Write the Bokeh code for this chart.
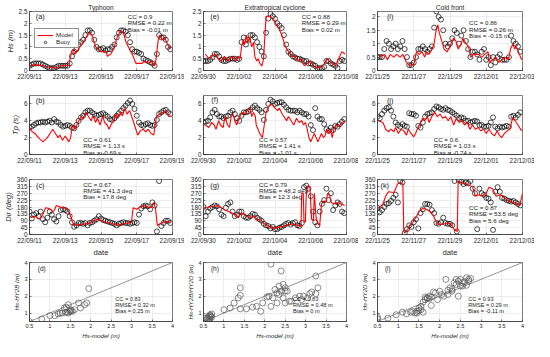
import numpy as np
from bokeh.plotting import figure
from bokeh.layouts import gridplot
from bokeh.models import (Range1d, FixedTicker, CustomJSTickFormatter, Label,
                          Legend, LegendItem)
from bokeh.embed import file_html
from bokeh.resources import INLINE

FONT = "Liberation Sans"
TXT = "#262626"
RED = "#ff0000"

titles = ["Typhoon", "Extratropical cyclone", "Cold front"]
date_labels = [
    ["22/09/11", "22/09/13", "22/09/15", "22/09/17", "22/09/19"],
    ["22/09/30", "22/10/02", "22/10/04", "22/10/06", "22/10/08"],
    ["22/11/25", "22/11/27", "22/11/29", "22/12/01", "22/12/03"],
]
date_ticks = [0, 2, 4, 6, 8]
STEP = 0.125  # buoy sampling, days (3 h)

# ---------------- Hs (m) ----------------
buoy_hs_typ = [0.2, 0.25, 0.3, 0.3, 0.3, 0.3, 0.25, 0.2,
               0.15, 0.1, 0.1, 0.1, 0.15, 0.2, 0.2, 0.2,
               0.2, 0.2, 0.3, 0.6, 0.8, 0.9, 1.1, 1.2,
               1.3, 1.5, 1.7, 1.7, 1.6, 1.3, 1.0, 0.9,
               0.9, 0.95, 0.85, 0.9, 0.9, 1.0, 1.1, 1.4,
               1.6, 1.7, 1.7, 1.65, 1.5, 1.2, 0.9, 0.8,
               0.8, 0.75, 0.7, 0.5, 0.45, 0.4, 0.35, 0.3,
               0.2, 0.7, 1.5, 1.4, 1.4, 1.3, 1.0, 0.9]
model_hs_typ = [(0, 0.2), (0.3, 0.25), (0.8, 0.2), (1.0, 0.15), (1.5, 0.1), (1.7, 0.2), (2.2, 0.2),
                (2.35, 0.8), (2.45, 0.9), (2.5, 0.7), (2.65, 0.8), (3.0, 1.2), (3.25, 1.5), (3.37, 1.6),
                (3.5, 1.5), (3.7, 1.0), (3.85, 0.9), (4.0, 0.8), (4.3, 0.8), (4.35, 0.6), (4.55, 0.7),
                (4.7, 0.9), (4.9, 1.4), (5.1, 1.7), (5.25, 1.6), (5.4, 1.2), (5.6, 0.9), (5.8, 0.6),
                (5.95, 0.3), (6.3, 0.3), (6.45, 0.4), (6.65, 0.3), (6.8, 0.4), (7.0, 0.2), (7.05, 0.3),
                (7.2, 1.3), (7.3, 1.5), (7.45, 1.3), (7.55, 1.4), (7.8, 1.0), (7.88, 0.9)]

buoy_hs_ext = [0.4, 0.4, 0.4, 0.45, 0.55, 0.7, 0.7, 0.6,
               0.45, 0.4, 0.4, 0.45, 0.5, 0.5, 0.5, 0.45,
               0.5, 1.2, 1.4, 1.1, 1.3, 1.5, 1.5, 1.4,
               1.2, 1.0, 0.8, 0.6, 1.6, 2.2, 2.4, 2.3,
               2.2, 2.0, 1.9, 1.8, 1.5, 1.1, 0.8, 0.7,
               0.6, 0.55, 0.5, 0.5, 0.45, 0.4, 0.4, 0.3,
               0.3, 0.25, 0.2, 0.1, 0.1, 0.1, 0.15, 0.4,
               0.4, 0.3, 0.25, 0.2, 0.1, 0.4, 0.45, 0.4]
model_hs_ext = [(0.1, 0.7), (0.3, 0.5), (0.47, 0.6), (0.65, 0.7), (0.82, 0.5), (1.0, 0.4), (1.17, 0.6),
                (1.35, 0.4), (1.6, 0.6), (1.78, 0.4), (1.92, 0.6), (2.05, 0.5), (2.13, 1.0), (2.22, 1.3),
                (2.3, 1.1), (2.4, 1.5), (2.48, 1.2), (2.57, 1.4), (2.7, 1.0), (2.8, 1.2), (2.87, 0.6),
                (2.98, 0.4), (3.06, 0.5), (3.15, 0.3), (3.27, 0.2), (3.36, 0.5), (3.5, 2.3), (3.68, 2.3),
                (3.85, 2.2), (4.03, 2.0), (4.2, 1.8), (4.38, 1.5), (4.59, 1.0), (4.76, 0.8), (4.94, 0.6),
                (5.11, 0.6), (5.29, 0.4), (5.46, 0.5), (5.64, 0.2), (5.81, 0.3), (5.99, 0.4), (6.16, 0.2),
                (6.34, 0.1), (6.6, 0.15), (6.78, 0.3), (6.9, 0.5), (7.04, 0.4), (7.2, 0.3), (7.39, 0.2),
                (7.56, 0.5), (7.74, 0.8), (7.91, 0.7)]

buoy_hs_cold = [0.5, 0.5, 0.5, 0.8, 1.1, 1.0, 0.8, 0.9,
                1.0, 0.8, 0.9, 1.1, 0.8, 0.5, 0.2, 0.2,
                0.3, 0.5, 0.8, 0.8, 0.9, 0.8, 0.7, 0.8,
                0.9, 1.6, 2.2, 2.0, 1.9, 1.5, 1.0, 0.9,
                1.0, 1.2, 1.5, 1.4, 1.0, 1.3, 1.5, 1.1,
                0.8, 0.5, 0.7, 0.7, 0.6, 0.4, 0.7, 0.8,
                0.4, 0.5, 0.2, 0.5, 0.3, 0.5, 0.6, 0.4,
                0.4, 0.4, 0.5, 1.3, 1.1, 1.0, 0.9, 0.7]
model_hs_cold = [(0.1, 0.5), (0.4, 0.6), (0.55, 0.4), (0.7, 0.6), (0.9, 0.5), (1.05, 0.6), (1.25, 0.5),
                 (1.4, 0.6), (1.6, 0.3), (1.75, 0.2), (1.95, 0.2), (2.03, 0.3), (2.15, 0.7), (2.3, 0.6),
                 (2.45, 0.7), (2.6, 0.5), (2.72, 0.7), (2.84, 0.6), (3.0, 0.8), (3.12, 1.0), (3.24, 1.5),
                 (3.33, 1.7), (3.41, 1.4), (3.5, 1.2), (3.59, 1.0), (3.67, 0.8), (3.84, 0.7), (4.0, 0.9),
                 (4.19, 1.2), (4.33, 1.1), (4.45, 0.8), (4.62, 1.0), (4.71, 1.2), (4.88, 1.0), (5.02, 0.9),
                 (5.14, 0.5), (5.32, 0.6), (5.58, 0.6), (5.75, 0.5), (5.92, 0.6), (6.1, 0.7), (6.18, 0.3),
                 (6.36, 0.4), (6.53, 0.5), (6.7, 0.3), (6.87, 0.4), (7.05, 0.5), (7.22, 0.4), (7.34, 0.8),
                 (7.48, 1.0), (7.57, 0.8), (7.65, 0.9), (7.83, 0.6), (7.95, 0.4)]

# ---------------- Tp (s) ----------------
buoy_tp_typ = [3.2, 3.3, 3.5, 3.7, 3.8, 3.8, 3.9, 3.8,
               3.9, 4.0, 3.8, 4.2, 3.9, 3.8, 3.5, 3.3,
               3.4, 3.5, 3.4, 3.2, 3.1, 3.5, 4.0, 4.4,
               4.6, 5.0, 5.2, 5.2, 5.0, 4.8, 4.6, 4.7,
               4.8, 4.9, 4.7, 4.5, 4.2, 4.1, 4.3, 4.6,
               4.9, 5.2, 5.5, 5.8, 6.1, 6.4, 6.0, 5.4,
               4.6, 3.8, 3.5, 3.4, 3.6, 3.7, 3.5, 3.4,
               3.5, 4.1, 4.8, 5.0, 5.2, 5.3, 5.0, 4.8]
model_tp_typ = [(0, 3.3), (0.1, 2.8), (0.3, 2.5), (0.5, 2.0), (0.75, 1.5), (1.0, 2.0), (1.15, 2.5), (1.3, 3.0),
                (1.45, 2.5), (1.6, 2.0), (1.7, 2.3), (1.85, 1.7), (2.0, 2.2), (2.2, 1.5), (2.3, 2.0), (2.4, 3.5),
                (2.55, 3.0), (2.7, 3.8), (2.9, 4.5), (3.0, 4.2), (3.15, 5.0), (3.3, 4.5), (3.45, 4.0), (3.55, 4.6),
                (3.7, 3.8), (3.8, 4.3), (3.95, 3.5), (4.1, 4.6), (4.2, 3.8), (4.35, 3.5), (4.45, 3.0), (4.55, 3.5),
                (4.7, 4.0), (4.85, 4.8), (4.95, 4.3), (5.1, 5.0), (5.2, 4.6), (5.35, 5.5), (5.45, 4.8), (5.6, 5.2),
                (5.8, 4.0), (5.95, 3.0), (6.05, 2.3), (6.2, 2.8), (6.35, 3.0), (6.5, 2.7), (6.65, 3.0), (6.8, 2.5),
                (6.95, 2.3), (7.0, 3.0), (7.1, 4.5), (7.3, 4.8), (7.5, 5.0), (7.6, 5.2), (7.8, 4.5), (7.9, 4.6)]

buoy_tp_ext = [3.8, 3.9, 4.0, 4.4, 5.0, 5.3, 4.8, 4.5,
               4.5, 4.3, 4.5, 4.6, 5.0, 5.2, 4.8, 4.3,
               4.0, 4.6, 5.0, 5.0, 5.1, 5.3, 5.6, 5.8,
               5.5, 5.3, 5.0, 4.1, 5.3, 6.0, 6.5, 6.3,
               6.0, 6.1, 6.2, 6.2, 5.9, 5.6, 5.3, 5.2,
               5.2, 5.2, 5.0, 5.2, 5.0, 4.8, 4.8, 4.5,
               3.5, 2.9, 5.5, 4.5, 4.2, 4.2, 3.6, 3.0,
               2.8, 3.2, 2.9, 3.4, 3.3, 3.6, 3.9, 4.2]
model_tp_ext = [(0.1, 3.5), (0.3, 3.2), (0.45, 3.8), (0.6, 3.5), (0.7, 3.0), (0.85, 4.0), (0.95, 3.5), (1.1, 3.2),
                (1.2, 4.5), (1.35, 3.5), (1.45, 3.2), (1.55, 4.5), (1.65, 4.8), (1.75, 4.0), (1.85, 3.5), (2.0, 4.3),
                (2.1, 4.8), (2.2, 5.0), (2.35, 4.8), (2.45, 5.3), (2.6, 5.5), (2.7, 4.5), (2.8, 5.0), (2.9, 4.5),
                (2.95, 3.5), (3.05, 3.0), (3.15, 2.5), (3.3, 2.0), (3.4, 3.5), (3.5, 5.0), (3.6, 5.5), (3.75, 6.0),
                (3.9, 5.8), (4.0, 5.5), (4.15, 5.2), (4.25, 5.5), (4.4, 4.8), (4.5, 4.5), (4.65, 4.0), (4.75, 4.5),
                (4.9, 4.0), (5.05, 3.5), (5.2, 4.3), (5.35, 3.8), (5.5, 4.0), (5.6, 3.5), (5.7, 3.8), (5.8, 3.0),
                (5.9, 2.0), (6.0, 1.5), (6.1, 2.0), (6.2, 2.5), (6.3, 2.0), (6.4, 1.5), (6.5, 2.0), (6.6, 2.5),
                (6.7, 2.0), (6.8, 2.2), (6.9, 3.0), (7.0, 2.5), (7.1, 3.0), (7.2, 2.0), (7.3, 3.0), (7.4, 3.5),
                (7.55, 3.3), (7.65, 3.5), (7.8, 3.8), (7.9, 4.0)]

buoy_tp_cold = [4.5, 4.3, 4.8, 5.2, 5.5, 5.6, 5.2, 4.5,
                3.8, 3.5, 3.3, 3.6, 3.4, 3.3, 4.9, 4.8,
                4.8, 4.6, 3.4, 3.2, 3.8, 4.5, 4.8, 4.9,
                5.0, 5.4, 5.7, 5.6, 5.4, 5.3, 5.5, 5.3,
                5.2, 5.0, 4.8, 4.6, 4.3, 4.4, 4.3, 4.0,
                4.0, 3.8, 3.9, 4.0, 3.9, 3.5, 3.5, 3.3,
                3.3, 3.4, 3.8, 4.4, 3.3, 3.1, 3.3, 3.2,
                3.3, 3.4, 3.3, 4.5, 4.6, 4.4, 4.7, 5.0]
model_tp_cold = [(0.05, 4.0), (0.3, 3.8), (0.45, 3.0), (0.6, 2.7), (0.75, 3.0), (0.9, 2.7), (1.0, 3.2), (1.15, 2.5),
                 (1.3, 3.0), (1.45, 2.8), (1.6, 2.3), (1.7, 3.0), (1.85, 2.5), (2.0, 2.1), (2.1, 2.5), (2.25, 3.3),
                 (2.4, 3.8), (2.5, 4.3), (2.6, 4.0), (2.75, 4.5), (2.85, 3.8), (3.0, 4.5), (3.15, 5.0), (3.3, 4.5),
                 (3.45, 4.8), (3.6, 4.3), (3.75, 4.5), (3.9, 4.0), (4.05, 4.5), (4.2, 3.5), (4.35, 4.3), (4.5, 3.8),
                 (4.65, 4.0), (4.8, 3.5), (4.95, 3.8), (5.1, 3.0), (5.25, 3.5), (5.4, 3.0), (5.55, 3.2), (5.7, 2.8),
                 (5.85, 3.0), (6.0, 2.5), (6.15, 3.0), (6.3, 2.5), (6.45, 2.2), (6.6, 2.8), (6.75, 2.2), (6.85, 2.0),
                 (7.0, 2.5), (7.15, 2.8), (7.3, 3.0), (7.45, 4.3), (7.6, 4.0), (7.75, 3.5), (7.95, 2.8)]

# ---------------- Dir (deg) ----------------
buoy_dir_typ = [150, 105, 130, 140, 120, 150, 100, 80,
                110, 150, 130, 100, 85, 120, 160, 165,
                160, 150, 120, 80, 50, 60, 75, 75,
                70, 75, 60, 75, 80, 90, 100, 120,
                105, 95, 90, 85, 80, 75, 70, 60,
                70, 75, 80, 75, 75, 70, 75, 80,
                75, 130, 170, 185, 190, 185, 165, 210,
                190, 20, 350, 55, 75, 90, 90, 75]
model_dir_typ = [(0.05, 110), (0.3, 120), (0.55, 100), (0.75, 130), (0.9, 175), (1.1, 170), (1.3, 150), (1.4, 160),
                 (1.5, 190), (1.7, 180), (1.9, 175), (2.1, 170), (2.3, 120), (2.4, 80), (2.5, 60), (2.8, 65),
                 (3.2, 70), (3.4, 75), (3.6, 90), (3.8, 100), (4.0, 90), (4.3, 80), (4.5, 75), (4.8, 65),
                 (5.0, 60), (5.2, 70), (5.5, 75), (5.7, 80), (5.8, 175), (6.0, 165), (6.2, 180), (6.4, 190),
                 (6.6, 180), (6.8, 175), (6.95, 210), (7.05, 170), (7.15, 60), (7.3, 70), (7.5, 80), (7.7, 85),
                 (7.9, 75)]

buoy_dir_ext = [180, 120, 150, 170, 180, 190, 185, 165,
                130, 120, 175, 200, 210, 150, 120, 130,
                150, 150, 120, 110, 110, 120, 135, 130,
                110, 100, 90, 70, 60, 55, 40, 50,
                35, 35, 45, 50, 60, 70, 75, 65,
                75, 80, 60, 55, 75, 310, 320, 300,
                250, 150, 80, 60, 150, 200, 225, 300,
                225, 270, 160, 190, 210, 200, 150, 140]
model_dir_ext = [(0.05, 170), (0.3, 180), (0.6, 185), (0.8, 190), (1.0, 175), (1.2, 160), (1.4, 150), (1.6, 140),
                 (1.8, 130), (1.95, 110), (2.1, 140), (2.3, 130), (2.5, 115), (2.7, 110), (2.8, 120), (3.0, 100),
                 (3.2, 95), (3.4, 70), (3.6, 55), (3.8, 45), (4.0, 40), (4.3, 50), (4.5, 55), (4.8, 65),
                 (5.0, 70), (5.2, 55), (5.4, 60), (5.45, 50), (5.5, 270), (5.58, 270), (5.62, 90), (5.7, 80),
                 (5.75, 270), (5.85, 320), (5.95, 310), (6.05, 100), (6.15, 90), (6.2, 270), (6.3, 110), (6.4, 70),
                 (6.5, 60), (6.6, 200), (6.75, 220), (6.85, 210), (6.95, 270), (7.05, 260), (7.15, 210), (7.3, 200),
                 (7.5, 210), (7.7, 200), (7.9, 190)]

buoy_dir_cold = [175, 145, 160, 180, 200, 205, 220, 240,
                 260, 210, 350, 340, 10, 35, 60, 50,
                 80, 100, 40, 140, 165, 200, 200, 195,
                 160, 140, 75, 70, 80, 110, 75, 70,
                 70, 60, 350, 20, 355, 345, 330, 340,
                 335, 350, 300, 270, 35, 300, 270, 260,
                 240, 235, 210, 30, 280, 310, 280, 240,
                 235, 225, 220, 215, 220, 210, 200, 190]
model_dir_cold = [(0.05, 170), (0.3, 200), (0.45, 250), (0.6, 280), (0.9, 275), (1.0, 300), (1.1, 330), (1.3, 340),
                  (1.4, 330), (1.45, 20), (1.5, 10), (1.65, 30), (1.8, 60), (1.95, 80), (2.15, 120), (2.35, 160),
                  (2.5, 170), (2.7, 165), (2.9, 150), (3.1, 120), (3.25, 80), (3.4, 65), (3.7, 70), (3.9, 75),
                  (4.1, 60), (4.25, 30), (4.4, 20), (4.45, 350), (4.6, 340), (4.9, 330), (5.1, 320), (5.25, 310),
                  (5.4, 250), (5.6, 260), (5.8, 250), (6.0, 270), (6.15, 310), (6.35, 300), (6.55, 250), (6.8, 260),
                  (7.0, 240), (7.2, 220), (7.5, 210), (7.7, 200), (7.85, 190), (8.0, 270)]

# ---------------- satellite scatter (Hs-model, Hs-sat) ----------------
scat_d = [(0.5, 0.5), (0.8, 0.65), (1.0, 0.85), (1.12, 0.85), (1.2, 0.95), (1.25, 1.0), (1.3, 1.0), (1.35, 1.3),
          (1.38, 1.05), (1.4, 1.35), (1.42, 1.05), (1.45, 1.5), (1.45, 1.0), (1.48, 1.1), (1.5, 1.1), (1.5, 1.2),
          (1.52, 1.15), (1.55, 1.1), (1.6, 1.2), (1.7, 1.6), (1.75, 1.3), (1.85, 1.5), (1.9, 1.6), (1.95, 2.45)]
scat_h = [(0.6, 0.7), (0.62, 0.8), (0.63, 0.6), (0.65, 0.75), (0.66, 0.9), (0.68, 0.8), (0.7, 0.75), (0.6, 0.65),
          (0.65, 0.6), (0.7, 0.95), (0.55, 0.7), (0.67, 0.85), (1.0, 1.2), (1.15, 1.3), (1.25, 1.6), (1.35, 1.9),
          (1.4, 2.05), (1.4, 2.5), (1.4, 1.25), (1.55, 1.25), (1.7, 1.35), (1.8, 1.4), (1.9, 1.1), (1.95, 1.6),
          (2.05, 1.95), (2.1, 2.0), (2.15, 1.4), (2.15, 3.9), (2.2, 1.9), (2.25, 2.4), (2.3, 2.2), (2.3, 1.6),
          (2.35, 2.1), (2.35, 2.6), (2.4, 3.5), (2.4, 2.3), (2.45, 2.7), (2.45, 1.9), (2.5, 2.5), (2.5, 2.3),
          (2.55, 2.3), (2.5, 1.6), (2.6, 1.7), (2.75, 1.9), (2.85, 2.0), (2.95, 2.0), (3.05, 1.9), (3.15, 2.25),
          (3.25, 3.2), (3.3, 2.5), (3.25, 2.15), (3.1, 2.15), (2.9, 1.8), (2.65, 1.7)]
scat_l = [(0.5, 0.75), (0.5, 0.65), (0.75, 0.7), (0.95, 0.9), (1.1, 1.05), (1.2, 0.95), (1.3, 1.05), (1.35, 1.1),
          (1.45, 1.1), (1.5, 1.15), (1.5, 1.3), (1.55, 1.4), (1.6, 1.05), (1.6, 1.65), (1.65, 1.8), (1.65, 1.95),
          (1.7, 1.9), (1.75, 2.0), (1.8, 1.95), (1.8, 1.45), (1.85, 2.25), (1.9, 2.2), (1.95, 1.8), (2.0, 2.3),
          (2.05, 2.1), (2.1, 2.0), (2.15, 3.0), (2.2, 2.35), (2.25, 2.5), (2.3, 2.4), (2.35, 2.8), (2.4, 2.7),
          (2.4, 3.0), (2.45, 2.9), (2.45, 2.0), (2.5, 2.6), (2.5, 3.0), (2.55, 2.8), (2.6, 2.85), (2.65, 3.1),
          (2.7, 3.0), (2.7, 2.9), (2.75, 3.05), (2.65, 2.65), (2.55, 2.6), (2.3, 2.3), (2.2, 2.1), (1.7, 1.9),
          (1.75, 1.85), (1.55, 1.2), (1.45, 1.0), (1.4, 1.0)]
one_to_one = [0.5, 4.0]

stats = {
    "a": ["CC = 0.9", "RMSE = 0.22 m", "Bias = -0.01 m"],
    "e": ["CC = 0.88", "RMSE = 0.29 m", "Bias = 0.02 m"],
    "i": ["CC = 0.86", "RMSE = 0.26 m", "Bias = -0.15 m"],
    "b": ["CC = 0.61", "RMSE = 1.13 s", "Bias = -0.69 s"],
    "f": ["CC = 0.57", "RMSE = 1.41 s", "Bias = -1.01 s"],
    "j": ["CC = 0.6", "RMSE = 1.03 s", "Bias = -0.74 s"],
    "c": ["CC = 0.67", "RMSE = 41.3 deg", "Bias = 17.8 deg"],
    "g": ["CC = 0.79", "RMSE = 48.2 deg", "Bias = 12.3 deg"],
    "k": ["CC = 0.87", "RMSE = 53.5 deg", "Bias = 5.6 deg"],
    "d": ["CC = 0.83", "RMSE = 0.32 m", "Bias = 0.25 m"],
    "h": ["CC = 0.83", "RMSE = 0.48 m", "Bias = 0 m"],
    "l": ["CC = 0.93", "RMSE = 0.29 m", "Bias = -0.11 m"],
}

# ---------------- layout ----------------
COL_L = [24, 14, 16]
COL_R = [12, 12, 12]
FW = 148
FH = 59
ROW_T = [11, 4, 4, 3]
ROW_B = [21, 21, 21, 20]

num_fmt = CustomJSTickFormatter(code="return String(Math.round(tick*100)/100);")


def style(p, tick_fs="6.4px", lab_fs="7.6px"):
    for ax in (p.xaxis[0], p.yaxis[0]):
        ax.major_label_text_font = FONT
        ax.major_label_text_font_size = tick_fs
        ax.major_label_text_color = TXT
        ax.axis_label_text_font = FONT
        ax.axis_label_text_font_size = lab_fs
        ax.axis_label_text_color = TXT
        ax.axis_label_standoff = 1
        ax.major_label_standoff = 2
        ax.major_tick_in = 2
        ax.major_tick_out = 0
        ax.minor_tick_in = 0
        ax.minor_tick_out = 0
        ax.axis_line_color = TXT
        ax.axis_line_width = 0.6
        ax.major_tick_line_color = TXT
        ax.major_tick_line_width = 0.6
    p.outline_line_color = TXT
    p.outline_line_width = 0.6
    p.outline_line_alpha = 1
    p.grid.grid_line_color = "#e0e0e0"
    p.grid.grid_line_width = 0.6


def make_fig(r, c, xr, yr):
    p = figure(width=COL_L[c] + FW + COL_R[c], height=ROW_T[r] + FH + ROW_B[r],
               x_range=Range1d(*xr), y_range=Range1d(*yr),
               output_backend="svg", toolbar_location=None,
               min_border_left=COL_L[c], min_border_right=COL_R[c],
               min_border_top=ROW_T[r], min_border_bottom=ROW_B[r])
    return p


def add_text(p, x, yfrac, yr, lines, fs="6.2px", px=6.6):
    span = yr[1] - yr[0]
    for k, s in enumerate(lines):
        y = yr[1] - span * yfrac - k * px * span / FH
        p.add_layout(Label(x=x, y=y, text=s, text_font=FONT, text_font_size=fs,
                           text_color=TXT, text_baseline="top"))


def add_letter(p, x, yfrac, yr, s, fs="7.4px"):
    y = yr[1] - (yr[1] - yr[0]) * yfrac
    p.add_layout(Label(x=x, y=y, text=s, text_font=FONT, text_font_size=fs,
                       text_color=TXT, text_baseline="middle", text_align="center"))


rows_data = [
    [(buoy_hs_typ, model_hs_typ), (buoy_hs_ext, model_hs_ext), (buoy_hs_cold, model_hs_cold)],
    [(buoy_tp_typ, model_tp_typ), (buoy_tp_ext, model_tp_ext), (buoy_tp_cold, model_tp_cold)],
    [(buoy_dir_typ, model_dir_typ), (buoy_dir_ext, model_dir_ext), (buoy_dir_cold, model_dir_cold)],
]
yranges = [[(0, 2.5), (0, 2.5), (0, 2.2)], [(0, 7), (0, 7), (0, 7)], [(0, 360), (0, 360), (0, 360)]]
yticks = [[0, 0.5, 1, 1.5, 2, 2.5], [0, 2, 4, 6], list(range(0, 361, 45))]
ylabels = ["Hs (m)", "Tp (s)", "Dir (deg)"]
letters = [["a", "e", "i"], ["b", "f", "j"], ["c", "g", "k"], ["d", "h", "l"]]
letter_pos = [[(0.6, 0.09), (0.63, 0.09), (0.7, 0.08)],
              [(0.6, 0.08), (0.63, 0.07), (0.7, 0.08)],
              [(0.6, 0.11), (0.63, 0.11), (0.4, 0.11)],
              [(0.8, 0.11), (0.78, 0.11), (0.75, 0.11)]]
stat_pos = [[(5.5, 0.02), (5.5, 0.02), (5.05, 0.13)],
            [(3.0, 0.68), (3.1, 0.68), (3.1, 0.68)],
            [(3.0, 0.02), (3.1, 0.02), (5.05, 0.45)],
            [(2.6, 0.57), (2.69, 0.57), (2.69, 0.57)]]

grid_rows = []
for r in range(3):
    row = []
    for c in range(3):
        yr = yranges[r][c]
        p = make_fig(r, c, (0, 8), yr)
        style(p)
        buoy, model = rows_data[r][c]
        tb = np.arange(len(buoy)) * STEP
        rb = p.scatter(tb, buoy, marker="circle", size=5, fill_color=None,
                       line_color="black", line_width=0.7)
        mt = [m[0] for m in model]
        mv = [m[1] for m in model]
        rm = p.line(mt, mv, line_color=RED, line_width=1.1)
        p.xaxis.ticker = FixedTicker(ticks=date_ticks)
        p.xaxis.formatter = CustomJSTickFormatter(args=dict(labels=date_labels[c]),
                                                  code="return labels[Math.round(tick/2)];")
        yt = [v for v in yticks[r] if v <= yr[1]]
        p.yaxis.ticker = FixedTicker(ticks=yt)
        p.yaxis.formatter = num_fmt
        if c == 0:
            p.yaxis.axis_label = ylabels[r]
            p.yaxis.axis_label_text_font_style = "italic"
        if r == 2:
            p.xaxis.axis_label = "date"
            p.xaxis.axis_label_text_font_style = "normal"
        if r == 0:
            p.title.text = titles[c]
            p.title.text_font = FONT
            p.title.text_font_size = "6.6px"
            p.title.text_font_style = "normal"
            p.title.text_color = TXT
            p.title.align = "center"
            p.title.standoff = 1
            p.title.offset = 0
        lx, lf = letter_pos[r][c]
        add_letter(p, lx, lf, yr, "(%s)" % letters[r][c])
        sx, sf = stat_pos[r][c]
        add_text(p, sx, sf, yr, stats[letters[r][c]])
        if r == 0 and c == 0:
            leg = Legend(items=[LegendItem(label="Model", renderers=[rm]),
                                LegendItem(label="Buoy", renderers=[rb])],
                         location=(5, 22))
            leg.label_text_font = FONT
            leg.label_text_font_size = "6.2px"
            leg.label_text_color = TXT
            leg.glyph_width = 16
            leg.glyph_height = 6
            leg.label_height = 6
            leg.label_standoff = 3
            leg.padding = 2
            leg.spacing = 0
            leg.margin = 0
            leg.border_line_color = TXT
            leg.border_line_width = 0.6
            p.add_layout(leg)
        row.append(p)
    grid_rows.append(row)

scat_sets = [scat_d, scat_h, scat_l]
scat_ylabels = ["Hs-HY2B (m)", "Hs-HY2B/HY2D (m)", "Hs-HY2D (m)"]
GRAY = "#5a5a5a"
row = []
for c in range(3):
    yr = (0.5, 4.0)
    p = make_fig(3, c, (0.5, 4.0), yr)
    style(p, tick_fs="5.6px", lab_fs="6.2px")
    p.line(one_to_one, one_to_one, line_color="#7a7a7a", line_width=0.8)
    sx_ = [s[0] for s in scat_sets[c]]
    sy_ = [s[1] for s in scat_sets[c]]
    p.scatter(sx_, sy_, marker="circle", size=6, fill_color=None,
              line_color=GRAY, line_width=0.7)
    p.xaxis.ticker = FixedTicker(ticks=[0.5, 1, 1.5, 2, 2.5, 3, 3.5, 4])
    p.yaxis.ticker = FixedTicker(ticks=[1, 2, 3, 4])
    p.xaxis.formatter = num_fmt
    p.yaxis.formatter = num_fmt
    p.xaxis.axis_label = "Hs-model (m)"
    p.xaxis.axis_label_text_font_style = "italic"
    p.yaxis.axis_label = scat_ylabels[c]
    p.yaxis.axis_label_text_font_style = "italic"
    lx, lf = letter_pos[3][c]
    add_letter(p, lx, lf, yr, "(%s)" % letters[3][c], fs="6.6px")
    sx, sf = stat_pos[3][c]
    add_text(p, sx, sf, yr, stats[letters[3][c]], fs="5.6px", px=5.8)
    row.append(p)
grid_rows.append(row)

grid = gridplot(grid_rows, toolbar_location=None, merge_tools=False)
open("out.html", "w").write(file_html(grid, INLINE))
